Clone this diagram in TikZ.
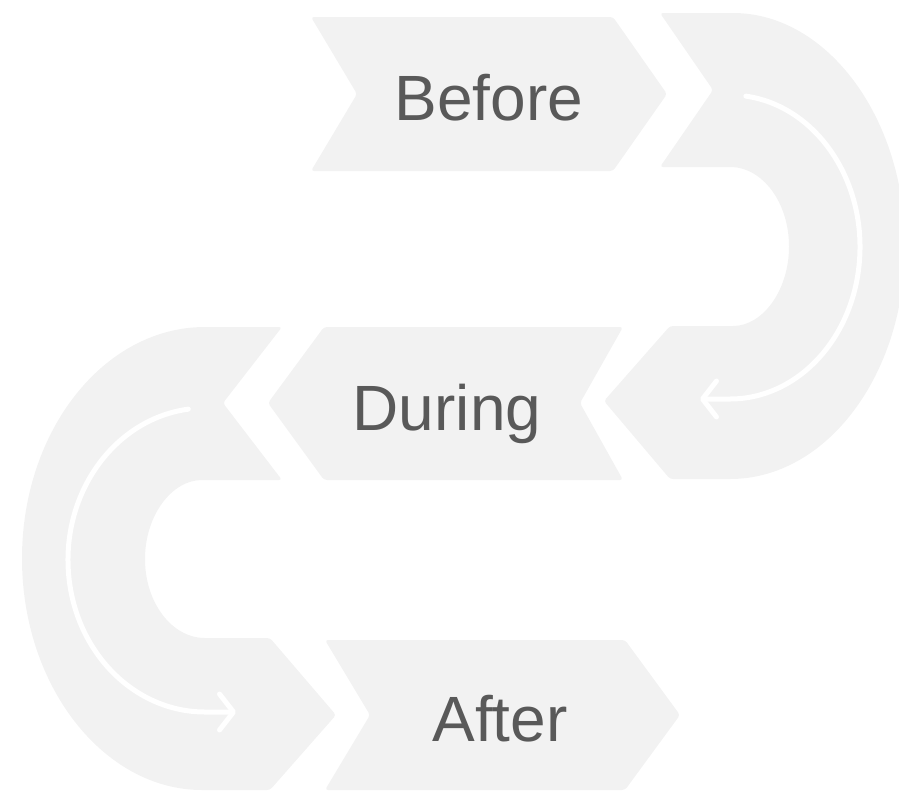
\documentclass[tikz,border=0pt]{standalone}
\usepackage{fontspec}
\setmainfont{Liberation Sans}
\usetikzlibrary{arrows.meta}
\definecolor{shapegray}{HTML}{F2F2F2}
\definecolor{textgray}{HTML}{595959}
\tikzset{
  piece/.style={fill=shapegray, draw=none},
  label/.style={text=textgray, font=\fontsize{64}{77}\selectfont, anchor=base, inner sep=0pt},
  turnarrow/.style={draw=white, line width=5pt, line cap=round, line join=round,
    -{Straight Barb[length=14pt,width=36pt,round]}}
}
\begin{document}
\begin{tikzpicture}[x=1pt,y=-1pt]
\useasboundingbox (0,0) rectangle (899,790);
\begin{scope}
\clip (0,0) rectangle (899,790);
% Before chevron
\fill[piece, rounded corners=3pt] (311,17) -- (613,17) -- (667,94) -- (613,171) -- (311,171) -- (357,94) -- cycle;
% During chevron
\fill[piece, rounded corners=3pt] (324,327) -- (623,327) -- (580,403) -- (623,480) -- (324,480) -- (268,403) -- cycle;
% After chevron
\fill[piece, rounded corners=3pt] (325,640) -- (625,640) -- (680,715) -- (625,790) -- (325,790) -- (370,715) -- cycle;
% top-right U-turn
\fill[piece] [rounded corners=3pt] (730,167) -- (660,167) -- (713,90) -- (660,13) -- (730,13) [sharp corners]
  arc[start angle=-90, end angle=90, x radius=175, y radius=233]
  [rounded corners=3pt] -- (670,479) -- (604,401) -- (670,326) -- (730,326) [sharp corners]
  arc[start angle=90, end angle=-90, x radius=59, y radius=79.5] -- cycle;
% left U-turn
\fill[piece] [rounded corners=3pt] (205,327) -- (282,327) -- (223,403) -- (282,480) -- (205,480) [sharp corners]
  arc[start angle=270, end angle=90, x radius=60, y radius=79]
  [rounded corners=3pt] -- (270,638) -- (336,715) -- (270,790) -- (205,790) [sharp corners]
  arc[start angle=90, end angle=270, x radius=183, y radius=231.5] -- cycle;
\end{scope}
% white turning arrows
\draw[turnarrow] (730,247) ++(-83:130 and 152) coordinate (ra)
  arc[start angle=-83, end angle=90, x radius=130, y radius=152] -- (700,399) coordinate (rb);
\draw[turnarrow] (205,560) ++(263:137 and 152) coordinate (la)
  arc[start angle=263, end angle=90, x radius=137, y radius=152] -- (236,712) coordinate (lb);
% labels
\node[label] (before) at (489,120) {Before};
\node[label] (during) at (447,430) {During};
\node[label] (after) at (500,741) {After};
\end{tikzpicture}
\end{document}
